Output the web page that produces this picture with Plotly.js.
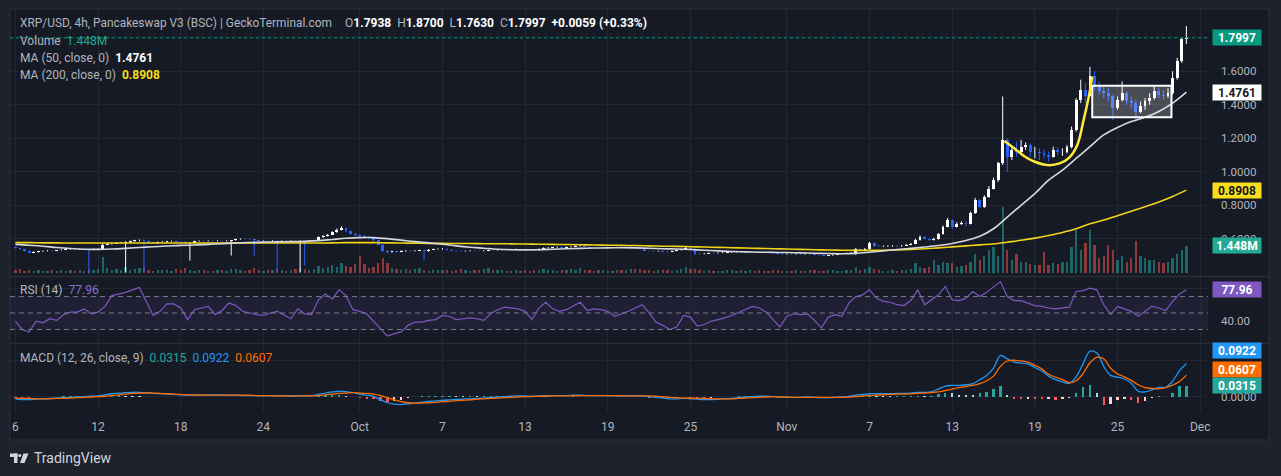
<!DOCTYPE html>
<html><head><meta charset="utf-8">
<script src="https://cdn.plot.ly/plotly-3.0.1.min.js"></script>
<style>html,body{margin:0;padding:0;background:#1e222d;overflow:hidden}</style>
</head><body><div id="chart" style="width:1281px;height:476px;"></div>
<script>
// ---------- DATA ----------
const symbolTitle = 'XRP/USD, 4h, Pancakeswap V3 (BSC) | GeckoTerminal.com';
const ohlcLast = {O:'1.7938', H:'1.8700', L:'1.7630', C:'1.7997', chg:'+0.0059 (+0.33%)'};
const firstOpen = 0.549;
// 8-hour candles from 2024-09-06 00:00 to 2024-11-30 00:00
const closeP = [
0.545,0.537,0.528, 0.517,0.522,0.525, 0.527,0.530,0.528, 0.532,0.535,0.538, 0.539,0.537,0.540,
0.538,0.536,0.539, 0.541,0.566,0.570, 0.572,0.575,0.578, 0.582,0.585,0.590, 0.592,0.586,0.580,
0.578,0.581,0.583, 0.585,0.586,0.584, 0.583,0.573,0.578, 0.586,0.588,0.587, 0.588,0.587,0.589,
0.588,0.589,0.590, 0.598,0.601,0.600, 0.596,0.590,0.588, 0.588,0.587,0.589, 0.587,0.588,0.586,
0.587,0.585,0.588, 0.585,0.589,0.590, 0.610,0.618,0.625, 0.640,0.655,0.662, 0.645,0.630,0.622,
0.618,0.612,0.605, 0.590,0.565,0.530, 0.522,0.525,0.524, 0.528,0.530,0.527, 0.530,0.531,0.526,
0.536,0.538,0.540, 0.540,0.535,0.530, 0.528,0.526,0.527, 0.530,0.529,0.528, 0.530,0.532,0.531,
0.535,0.536,0.538, 0.537,0.539,0.536, 0.535,0.533,0.531, 0.540,0.546,0.548, 0.549,0.550,0.547,
0.551,0.553,0.556, 0.560,0.553,0.548, 0.547,0.546,0.548, 0.549,0.548,0.550, 0.549,0.550,0.551,
0.550,0.540,0.530, 0.528,0.526,0.527, 0.524,0.522,0.528, 0.532,0.538,0.545, 0.540,0.512,0.510,
0.512,0.515,0.514, 0.516,0.518,0.519, 0.520,0.521,0.519, 0.522,0.524,0.523, 0.522,0.521,0.520,
0.515,0.512,0.510, 0.511,0.509,0.510, 0.508,0.509,0.507, 0.504,0.502,0.500, 0.502,0.505,0.510,
0.512,0.514,0.516, 0.540,0.533,0.538, 0.575,0.558,0.555, 0.556,0.557,0.558, 0.556,0.560,0.566,
0.570,0.595,0.612, 0.600,0.593,0.598, 0.628,0.672,0.712, 0.672,0.690,0.695, 0.690,0.754,0.832,
0.790,0.850,0.900, 0.950,1.050,1.190, 1.090,1.130,1.120, 1.150,1.160,1.120, 1.120,1.110,1.100,
1.090,1.130,1.120, 1.120,1.150,1.250, 1.430,1.490,1.450, 1.570,1.520,1.480, 1.470,1.450,1.380,
1.430,1.470,1.420, 1.410,1.360,1.390, 1.420,1.440,1.480, 1.460,1.450,1.470, 1.560,1.660,1.7938,
1.7997];
const highP = [
0.552,0.547,0.540, 0.530,0.525,0.528, 0.530,0.533,0.532, 0.534,0.538,0.541, 0.542,0.541,0.543,
0.542,0.540,0.542, 0.544,0.570,0.574, 0.576,0.579,0.582, 0.586,0.589,0.594, 0.596,0.595,0.590,
0.582,0.584,0.586, 0.588,0.589,0.589, 0.587,0.585,0.581, 0.589,0.591,0.590, 0.591,0.590,0.592,
0.592,0.592,0.593, 0.601,0.604,0.604, 0.602,0.598,0.592, 0.591,0.590,0.592, 0.591,0.591,0.590,
0.590,0.589,0.591, 0.590,0.592,0.593, 0.614,0.622,0.629, 0.645,0.662,0.675, 0.665,0.650,0.636,
0.627,0.622,0.616, 0.608,0.594,0.568, 0.533,0.529,0.528, 0.531,0.533,0.532, 0.533,0.534,0.532,
0.539,0.541,0.543, 0.545,0.543,0.537, 0.532,0.530,0.530, 0.533,0.532,0.531, 0.533,0.535,0.534,
0.538,0.539,0.541, 0.541,0.542,0.541, 0.539,0.537,0.535, 0.543,0.549,0.551, 0.552,0.554,0.553,
0.554,0.556,0.560, 0.566,0.562,0.555, 0.551,0.550,0.551, 0.552,0.551,0.553, 0.553,0.553,0.554,
0.554,0.552,0.542, 0.532,0.530,0.530, 0.529,0.527,0.531, 0.535,0.541,0.552, 0.548,0.542,0.516,
0.516,0.518,0.518, 0.519,0.521,0.522, 0.523,0.524,0.523, 0.525,0.527,0.527, 0.526,0.525,0.524,
0.522,0.518,0.515, 0.514,0.513,0.513, 0.512,0.512,0.511, 0.509,0.506,0.504, 0.505,0.508,0.513,
0.515,0.517,0.520, 0.545,0.542,0.545, 0.582,0.578,0.562, 0.560,0.561,0.562, 0.562,0.564,0.570,
0.575,0.600,0.620, 0.615,0.604,0.606, 0.634,0.680,0.725, 0.718,0.700,0.705, 0.705,0.762,0.845,
0.838,0.860,0.915, 0.965,1.060,1.450, 1.200,1.150,1.180, 1.190,1.175,1.170, 1.150,1.140,1.130,
1.120,1.150,1.145, 1.140,1.160,1.270, 1.440,1.550,1.530, 1.627,1.600,1.540, 1.510,1.500,1.460,
1.450,1.540,1.480, 1.450,1.430,1.420, 1.440,1.470,1.510, 1.500,1.490,1.500, 1.600,1.680,1.800,
1.870];
const lowP = [
0.541,0.533,0.524, 0.514,0.515,0.519, 0.522,0.525,0.525, 0.526,0.530,0.533, 0.535,0.534,0.535,
0.534,0.392,0.534, 0.535,0.538,0.562, 0.566,0.569,0.571, 0.400,0.579,0.582, 0.585,0.400,0.577,
0.574,0.575,0.578, 0.580,0.582,0.581, 0.580,0.570,0.470, 0.577,0.583,0.583, 0.584,0.584,0.585,
0.585,0.585,0.500, 0.589,0.595,0.596, 0.593,0.500,0.585, 0.585,0.584,0.585, 0.400,0.584,0.583,
0.583,0.582,0.400, 0.440,0.583,0.586, 0.588,0.606,0.614, 0.622,0.636,0.650, 0.640,0.626,0.617,
0.612,0.607,0.598, 0.585,0.560,0.522, 0.512,0.518,0.518, 0.520,0.524,0.523, 0.524,0.527,0.470,
0.524,0.533,0.535, 0.536,0.531,0.527, 0.524,0.522,0.523, 0.525,0.526,0.525, 0.525,0.527,0.528,
0.529,0.532,0.533, 0.534,0.535,0.533, 0.532,0.530,0.527, 0.529,0.537,0.543, 0.545,0.546,0.544,
0.545,0.548,0.550, 0.554,0.550,0.545, 0.544,0.543,0.544, 0.545,0.545,0.546, 0.546,0.546,0.547,
0.547,0.537,0.527, 0.525,0.523,0.523, 0.520,0.519,0.520, 0.526,0.530,0.534, 0.536,0.505,0.506,
0.507,0.510,0.510, 0.511,0.514,0.515, 0.516,0.517,0.515, 0.517,0.519,0.520, 0.519,0.518,0.517,
0.512,0.509,0.506, 0.507,0.505,0.506, 0.505,0.505,0.504, 0.501,0.498,0.496, 0.497,0.499,0.503,
0.507,0.509,0.511, 0.505,0.528,0.530, 0.536,0.554,0.551, 0.551,0.552,0.553, 0.552,0.553,0.558,
0.562,0.568,0.590, 0.596,0.588,0.590, 0.595,0.625,0.668, 0.660,0.668,0.682, 0.676,0.686,0.748,
0.782,0.785,0.845, 0.895,0.940,1.040, 1.000,1.070,1.090, 1.110,1.130,1.090, 1.080,1.070,1.080,
1.060,1.085,1.100, 1.095,1.110,1.140, 1.240,1.410,1.410, 1.450,1.490,1.460, 1.440,1.420,1.310,
1.370,1.420,1.400, 1.380,1.300,1.350, 1.370,1.400,1.430, 1.440,1.430,1.440, 1.460,1.550,1.650,
1.763];
// volume in millions, same 8h candles
const volumeM = [
0.12,0.18,0.10, 0.15,0.10,0.12, 0.08,0.11,0.14, 0.10,0.16,0.09, 0.12,0.08,0.15,
0.10,0.22,0.12, 0.18,0.85,0.25, 0.15,0.20,0.12, 0.30,0.14,0.22, 0.25,0.30,0.12,
0.10,0.15,0.12, 0.14,0.10,0.18, 0.12,0.25,0.15, 0.10,0.12,0.16, 0.08,0.11,0.14,
0.12,0.10,0.20, 0.18,0.12,0.10, 0.14,0.25,0.12, 0.10,0.12,0.15, 0.22,0.12,0.10,
0.14,0.20,0.25, 0.22,0.12,0.18, 0.35,0.25,0.30, 0.40,0.30,0.50, 0.35,0.30,0.45,
0.90,0.45,0.25, 0.30,0.50,0.80, 0.50,0.25,0.20, 0.15,0.22,0.12, 0.18,0.25,0.15,
0.10,0.12,0.14, 0.15,0.12,0.10, 0.14,0.18,0.12, 0.10,0.15,0.12, 0.22,0.25,0.14,
0.12,0.15,0.10, 0.08,0.12,0.10, 0.12,0.10,0.14, 0.16,0.20,0.14, 0.12,0.10,0.15,
0.14,0.18,0.12, 0.25,0.16,0.12, 0.10,0.14,0.12, 0.10,0.08,0.12, 0.12,0.14,0.20,
0.18,0.22,0.16, 0.12,0.10,0.14, 0.12,0.15,0.10, 0.14,0.18,0.30, 0.22,0.20,0.12,
0.10,0.12,0.08, 0.10,0.08,0.12, 0.12,0.10,0.14, 0.10,0.12,0.08, 0.12,0.10,0.10,
0.14,0.12,0.10, 0.10,0.08,0.12, 0.08,0.10,0.12, 0.12,0.10,0.10, 0.12,0.14,0.10,
0.10,0.12,0.14, 0.30,0.15,0.20, 0.30,0.18,0.12, 0.10,0.08,0.12, 0.10,0.12,0.15,
0.20,0.50,0.30, 0.25,0.30,0.70, 0.40,0.60,0.50, 0.50,0.30,0.35, 0.40,0.60,1.00,
0.70,0.90,1.20, 1.40,0.90,3.50, 1.20,0.70,1.00, 0.60,0.55,0.45, 0.40,0.40,1.10,
0.40,0.50,0.45, 0.60,0.60,1.40, 2.30,1.20,1.60, 2.30,1.50,0.80, 0.90,1.50,1.20,
0.70,0.90,0.60, 0.80,1.70,0.90, 0.80,0.70,0.70, 0.60,0.50,0.60, 0.80,1.00,1.20,
1.448];
// daily moving averages (Sep 6 .. Nov 30)
const ma50 = [
0.567,0.562,0.556,0.548,0.542,0.538,0.537,0.539,0.543,0.548,
0.553,0.557,0.561,0.563,0.567,0.571,0.575,0.578,0.580,0.582,
0.583,0.585,0.589,0.596,0.603,0.607,0.607,0.601,0.592,0.583,
0.576,0.568,0.558,0.550,0.544,0.538,0.535,0.534,0.535,0.538,
0.541,0.543,0.545,0.546,0.547,0.546,0.544,0.541,0.539,0.536,
0.532,0.528,0.524,0.522,0.520,0.519,0.518,0.516,0.514,0.512,
0.511,0.513,0.520,0.528,0.536,0.543,0.551,0.560,0.572,0.590,
0.615,0.660,0.730,0.800,0.870,0.950,1.010,1.080,1.150,1.220,
1.265,1.300,1.325,1.360,1.410,1.4761];
const ma200 = [
0.577,0.577,0.576,0.576,0.575,0.575,0.575,0.575,0.575,0.575,
0.575,0.575,0.575,0.575,0.575,0.575,0.575,0.575,0.575,0.575,
0.575,0.575,0.575,0.576,0.577,0.577,0.577,0.576,0.575,0.574,
0.573,0.573,0.572,0.572,0.571,0.571,0.570,0.569,0.568,0.567,
0.566,0.565,0.563,0.562,0.561,0.560,0.558,0.556,0.555,0.553,
0.551,0.549,0.547,0.545,0.543,0.541,0.539,0.537,0.535,0.533,
0.532,0.531,0.531,0.532,0.534,0.537,0.541,0.546,0.552,0.558,
0.564,0.569,0.580,0.591,0.604,0.620,0.638,0.660,0.690,0.712,
0.738,0.765,0.792,0.820,0.853,0.8908];
// 12h indicator samples (Sep 6 .. Nov 30)
const rsi14 = [
40,30,27,40,38,43,41,48,51,51, 55,49,51,58,71,73,75,78,81,64,
47,52,61,61,56,42,54,56,58,48, 53,62,59,52,50,48,47,50,52,47,
43,55,49,48,66,73,67,78,71,54, 52,49,40,31,22,25,27,35,39,39,
41,42,47,46,42,43,44,43,41,49, 54,57,56,55,52,42,56,63,55,52,
54,58,63,53,55,54,52,46,49,52, 56,60,50,39,35,30,33,47,45,34,
36,40,42,44,47,51,55,58,56,51, 42,33,46,49,48,49,41,32,45,48,
46,62,70,72,78,68,64,63,60,59, 65,78,60,66,72,82,66,65,68,76,
70,75,82,88,70,65,65,62,59,58, 56,55,56,57,76,77,80,78,60,48,
58,55,52,46,52,58,56,53,64,73, 77.96];
const macdLine = [
-0.006,-0.007,-0.007,-0.006,-0.005,-0.004,-0.003,-0.002,-0.001,0.000,
0.001,0.002,0.003,0.006,0.009,0.011,0.012,0.013,0.013,0.012,
0.010,0.009,0.008,0.007,0.006,0.005,0.005,0.005,0.006,0.006,
0.005,0.005,0.005,0.004,0.004,0.004,0.003,0.003,0.003,0.003,
0.002,0.003,0.003,0.003,0.007,0.011,0.014,0.016,0.015,0.012,
0.008,0.005,0.002,-0.008,-0.016,-0.020,-0.021,-0.019,-0.017,-0.014,
-0.012,-0.011,-0.009,-0.008,-0.007,-0.006,-0.005,-0.004,-0.003,-0.001,
0.000,0.001,0.002,0.003,0.003,0.002,0.003,0.004,0.004,0.004,
0.004,0.005,0.005,0.004,0.004,0.004,0.004,0.003,0.003,0.003,
0.003,0.003,0.001,-0.001,-0.003,-0.005,-0.005,-0.004,-0.005,-0.006,
-0.007,-0.007,-0.006,-0.005,-0.004,-0.002,0.000,0.001,0.002,0.002,
0.001,-0.001,-0.001,-0.001,-0.001,0.000,-0.001,-0.002,-0.002,-0.001,
0.000,0.002,0.005,0.007,0.009,0.009,0.009,0.009,0.010,0.010,
0.011,0.013,0.013,0.015,0.022,0.030,0.032,0.032,0.034,0.037,
0.048,0.060,0.080,0.115,0.106,0.097,0.094,0.092,0.082,0.072,
0.058,0.048,0.042,0.038,0.056,0.092,0.127,0.122,0.085,0.060,
0.055,0.050,0.038,0.016,0.014,0.020,0.027,0.027,0.044,0.073,
0.0922];
const signalLine = [
-0.003,-0.004,-0.004,-0.005,-0.005,-0.005,-0.004,-0.004,-0.003,-0.002,
-0.001,0.000,0.001,0.002,0.004,0.006,0.008,0.010,0.011,0.011,
0.011,0.010,0.009,0.008,0.007,0.006,0.006,0.005,0.005,0.005,
0.005,0.005,0.005,0.005,0.005,0.004,0.004,0.004,0.003,0.003,
0.003,0.003,0.003,0.003,0.004,0.006,0.008,0.010,0.011,0.012,
0.011,0.010,0.008,0.004,-0.002,-0.008,-0.013,-0.016,-0.017,-0.017,
-0.016,-0.015,-0.013,-0.012,-0.010,-0.009,-0.008,-0.006,-0.005,-0.004,
-0.003,-0.002,-0.001,0.000,0.001,0.001,0.002,0.002,0.003,0.003,
0.003,0.003,0.004,0.004,0.004,0.004,0.004,0.004,0.003,0.003,
0.003,0.003,0.003,0.002,0.001,-0.001,-0.002,-0.003,-0.003,-0.004,
-0.004,-0.005,-0.005,-0.005,-0.005,-0.004,-0.003,-0.002,-0.001,0.000,
0.001,0.000,0.000,-0.001,-0.001,-0.001,-0.001,-0.001,-0.001,-0.001,
-0.001,0.000,0.001,0.003,0.004,0.005,0.006,0.007,0.008,0.008,
0.009,0.010,0.011,0.012,0.014,0.018,0.022,0.026,0.029,0.032,
0.037,0.045,0.058,0.085,0.100,0.102,0.100,0.097,0.088,0.078,
0.063,0.055,0.048,0.040,0.045,0.065,0.095,0.110,0.106,0.080,
0.064,0.056,0.046,0.034,0.026,0.024,0.023,0.026,0.033,0.043,
0.0607];
// drawing: cup curve and consolidation box
const cupTimes = ['2024-11-16 19:00','2024-11-17 12:00','2024-11-18 07:00','2024-11-19 00:00','2024-11-19 22:00','2024-11-20 19:00','2024-11-21 12:00','2024-11-22 02:00','2024-11-22 13:00','2024-11-22 22:00','2024-11-23 04:00'];
const cupPrices = [1.184,1.140,1.090,1.060,1.040,1.050,1.085,1.160,1.310,1.450,1.570];
const boxTimes = ['2024-11-23 04:00','2024-11-28 22:00'];
const boxPrices = [1.325,1.514];
const tickDates = ['2024-09-06','2024-09-12','2024-09-18','2024-09-24','2024-10-01','2024-10-07','2024-10-13','2024-10-19','2024-10-25','2024-11-01','2024-11-07','2024-11-13','2024-11-19','2024-11-25','2024-12-01'];
const tickLabels = ['6','12','18','24','Oct','7','13','19','25','Nov','7','13','19','25','Dec'];
const priceTicks = [0.6,0.8,1.0,1.2,1.4,1.6,1.8];
const priceTickLabels = ['0.6000','0.8000','1.0000','1.2000','1.4000','1.6000',''];

// ---------- BUILD ----------
const HOUR = 3600e3, T0 = Date.UTC(2024,8,6,0,0);
const pad = n => String(n).padStart(2,'0');
const ts = ms => { const d = new Date(ms); return d.getUTCFullYear()+'-'+pad(d.getUTCMonth()+1)+'-'+pad(d.getUTCDate())+' '+pad(d.getUTCHours())+':'+pad(d.getUTCMinutes()); };
const tC = closeP.map((_,i)=>ts(T0+i*8*HOUR));
const tD = ma50.map((_,i)=>ts(T0+i*24*HOUR));
const tH = rsi14.map((_,i)=>ts(T0+i*12*HOUR));
const openP = closeP.map((c,i)=> i===0 ? firstOpen : closeP[i-1]);
const isUp = closeP.map((c,i)=> c >= openP[i]);
const UP = '#ffffff', DN = '#2962ff';

function wick(up){
  const x=[], y=[];
  closeP.forEach((c,i)=>{ if(isUp[i]===up){ x.push(tC[i],tC[i],null); y.push(lowP[i],highP[i],null);} });
  return {type:'scatter',mode:'lines',x,y,yaxis:'y2',line:{color:up?UP:DN,width:1},hoverinfo:'skip'};
}
function body(up){
  const idx = closeP.map((c,i)=>i).filter(i=>isUp[i]===up);
  return {type:'bar', x:idx.map(i=>tC[i]), base:idx.map(i=>Math.min(openP[i],closeP[i])),
    y:idx.map(i=>Math.abs(closeP[i]-openP[i])), width:5*HOUR, yaxis:'y2',
    marker:{color:up?UP:DN,line:{width:0}}, hoverinfo:'skip'};
}
const hist = macdLine.map((m,i)=>m-signalLine[i]);
const histColors = hist.map((h,i)=>{ const p = i>0?hist[i-1]:0;
  if(h>=0) return h>=p ? '#26a69a' : '#b2dfdb'; return h<=p ? '#ff5252' : '#ffcdd2'; });

const traces = [
  {type:'bar', x:tC, y:volumeM, yaxis:'y', width:4*HOUR,
   marker:{color:isUp.map(u=>u?'rgba(38,166,154,0.55)':'rgba(239,83,80,0.55)'),line:{width:0}}, hoverinfo:'skip'},
  wick(true), wick(false), body(true), body(false),
  {type:'scatter',mode:'lines',x:tD,y:ma200,yaxis:'y2',line:{color:'#f2d518',width:1.6,shape:'spline'},hoverinfo:'skip'},
  {type:'scatter',mode:'lines',x:tD,y:ma50,yaxis:'y2',line:{color:'#d6d8de',width:1.6,shape:'spline'},hoverinfo:'skip'},
  {type:'scatter',mode:'lines',x:cupTimes,y:cupPrices,yaxis:'y2',line:{color:'#ffeb3b',width:2.5,shape:'spline'},hoverinfo:'skip'},
  {type:'scatter',mode:'lines',x:tH,y:rsi14,yaxis:'y3',line:{color:'#7e57c2',width:1.2},hoverinfo:'skip'},
  {type:'bar',x:tH,y:hist,yaxis:'y4',width:4*HOUR,marker:{color:histColors,line:{width:0}},hoverinfo:'skip'},
  {type:'scatter',mode:'lines',x:tH,y:macdLine,yaxis:'y4',line:{color:'#2196f3',width:1.3,shape:'spline'},hoverinfo:'skip'},
  {type:'scatter',mode:'lines',x:tH,y:signalLine,yaxis:'y4',line:{color:'#ff6d00',width:1.3,shape:'spline'},hoverinfo:'skip'}
];

// pixel helpers for paper coords
const PL=10, PR=1208, PT=10, PB=412, PW=PR-PL, PH=PB-PT;
const fx = p => (p-PL)/PW, fy = p => (PB-p)/PH;
const GRID = '#232733', TXT = '#b2b5be', FONT = 'Roboto, "Open Sans", sans-serif';
const tickFont = {family:FONT,size:11.5,color:TXT};

const shapes = [
  {type:'rect',xref:'paper',yref:'paper',x0:fx(10),x1:fx(1269),y0:fy(440),y1:fy(9),fillcolor:'#161a25',line:{color:'#2a2e39',width:1},layer:'below'},
  {type:'rect',xref:'paper',yref:'y3',x0:0,x1:1,y0:30,y1:70,fillcolor:'rgba(126,87,194,0.10)',line:{width:0},layer:'below'},
  ...[70,50,30].map(v=>({type:'line',xref:'paper',yref:'y3',x0:0,x1:1,y0:v,y1:v,line:{color:'#787b86',width:1,dash:'5px,4px'}})),
  {type:'line',xref:'paper',yref:'paper',x0:fx(10),x1:fx(1269),y0:fy(276.5),y1:fy(276.5),line:{color:'#2a2e39',width:1.5}},
  {type:'line',xref:'paper',yref:'paper',x0:fx(10),x1:fx(1269),y0:fy(343.5),y1:fy(343.5),line:{color:'#2a2e39',width:1.5}},
  {type:'line',xref:'paper',yref:'y2',x0:0,x1:1,y0:closeP[closeP.length-1],y1:closeP[closeP.length-1],line:{color:'#089981',width:1,dash:'dot'}},
  {type:'rect',xref:'x',yref:'y2',x0:boxTimes[0],x1:boxTimes[1],y0:boxPrices[0],y1:boxPrices[1],fillcolor:'rgba(255,255,255,0.22)',line:{color:'#ffffff',width:2},layer:'above'},
  // TradingView logo
  {type:'rect',xref:'paper',yref:'paper',x0:fx(10),x1:fx(17.5),y0:fy(457),y1:fy(453.5),fillcolor:'#d1d4dc',line:{width:0}},
  {type:'rect',xref:'paper',yref:'paper',x0:fx(14),x1:fx(17.5),y0:fy(463),y1:fy(453.5),fillcolor:'#d1d4dc',line:{width:0}},
  {type:'circle',xref:'paper',yref:'paper',x0:fx(18.3),x1:fx(21.3),y0:fy(457),y1:fy(454),fillcolor:'#d1d4dc',line:{width:0}},
  {type:'path',xref:'paper',yref:'paper',path:`M ${fx(23.5)} ${fy(453.5)} L ${fx(28.5)} ${fy(453.5)} L ${fx(24.5)} ${fy(463)} L ${fx(20)} ${fy(463)} Z`,fillcolor:'#d1d4dc',line:{width:0}}
];

const W = '#ffffff', NB = '\u00a0';
const legendFont = {family:FONT,size:12,color:TXT};
function leftNote(px,py,text,size){ return {xref:'paper',yref:'paper',x:fx(px),y:fy(py),xanchor:'left',yanchor:'middle',text,showarrow:false,
  font:Object.assign({},legendFont,size?{size}:{}),align:'left'}; }
function valBox(yref,y,text,bg,fg,yshift){ return {xref:'paper',yref,x:1,y,xanchor:'left',yanchor:'middle',xshift:4,yshift:yshift||0,
  text:'<b>'+text+'</b>',bgcolor:bg,showarrow:false,width:46,height:13,borderpad:1,font:{family:FONT,size:12,color:fg}}; }
const col = (c,t,b) => `<span style="color:${c}">${b?'<b>'+t+'</b>':t}</span>`;

const lastVol = volumeM[volumeM.length-1], lastMa50 = ma50[ma50.length-1], lastMa200 = ma200[ma200.length-1];
const lastRsi = rsi14[rsi14.length-1], lastMacd = macdLine[macdLine.length-1], lastSig = signalLine[signalLine.length-1];
const lastHist = lastMacd - lastSig;

const annotations = [
  leftNote(18,23,symbolTitle,11.9),
  leftNote(343,23,`O${col(W,ohlcLast.O,1)}${NB}${NB}H${col(W,ohlcLast.H,1)}${NB}${NB}L${col(W,ohlcLast.L,1)}${NB}${NB}C${col(W,ohlcLast.C,1)}${NB}${NB}${col(W,ohlcLast.chg,1)}`),
  leftNote(18,41,`Volume${NB}${NB}${col('#22ab94',lastVol.toFixed(3)+'M')}`),
  leftNote(18,58,`MA (50, close, 0)${NB}${NB}${col(W,lastMa50.toFixed(4),1)}`),
  leftNote(18,75,`MA (200, close, 0)${NB}${NB}${col('#f7de1c',lastMa200.toFixed(4),1)}`),
  leftNote(18,290,`RSI (14)${NB}${NB}${col('#8e6bd8',lastRsi.toFixed(2))}`),
  leftNote(18,358,`MACD (12, 26, close, 9)${NB}${NB}${col('#26a69a',lastHist.toFixed(4))}${NB}${NB}${col('#2196f3',lastMacd.toFixed(4))}${NB}${NB}${col('#ff6d00',lastSig.toFixed(4))}`),
  valBox('y2',closeP[closeP.length-1],closeP[closeP.length-1].toFixed(4),'#089981','#ffffff'),
  valBox('y2',lastMa50,lastMa50.toFixed(4),'#ffffff','#131722'),
  valBox('y2',lastMa200,lastMa200.toFixed(4),'#f7de1c','#131722'),
  valBox('y',lastVol,lastVol.toFixed(3)+'M','#22ab94','#ffffff'),
  valBox('y3',lastRsi,lastRsi.toFixed(2),'#7e57c2','#ffffff'),
  valBox('y4',lastMacd,lastMacd.toFixed(4),'#2196f3','#ffffff',13),
  valBox('y4',lastSig,lastSig.toFixed(4),'#ff6d00','#ffffff',6),
  valBox('y4',lastHist,lastHist.toFixed(4),'#26a69a','#ffffff'),
  {xref:'paper',yref:'paper',x:fx(32),y:fy(458),xanchor:'left',yanchor:'middle',text:'TradingView',showarrow:false,font:{family:FONT,size:14,color:'#d1d4dc'}}
];

const layout = {
  width:1281, height:476, margin:{l:PL,r:1281-PR,t:PT,b:476-PB,pad:0},
  paper_bgcolor:'#1e222d', plot_bgcolor:'rgba(0,0,0,0)', showlegend:false,
  barmode:'overlay', bargap:0, font:{family:FONT,color:TXT,size:12},
  xaxis:{type:'date', range:['2024-09-05 14:36','2024-12-01 13:40'], anchor:'y4',
    tickvals:tickDates, ticktext:tickLabels, showgrid:true, gridcolor:GRID, gridwidth:1,
    zeroline:false, showline:false, ticks:'', tickfont:{family:FONT,size:12,color:TXT}, ticklabelstandoff:6, fixedrange:true},
  yaxis:{domain:[fy(275),1], range:[-0.123,14.086], visible:false, showgrid:false, fixedrange:true},
  yaxis2:{overlaying:'y', anchor:'x', side:'right', range:[0.384,1.966], tickvals:priceTicks,
    ticktext:priceTickLabels, showgrid:true, gridcolor:GRID, zeroline:false, ticks:'',
    tickfont:tickFont, ticklabelstandoff:12, fixedrange:true},
  yaxis3:{domain:[fy(343),fy(277)], anchor:'x', side:'right', range:[13.6,93.6], tickvals:[40,80],
    ticktext:['40.00',''], showgrid:true, gridcolor:GRID, zeroline:false, ticks:'', tickfont:tickFont, ticklabelstandoff:12, fixedrange:true},
  yaxis4:{domain:[0,fy(345)], anchor:'x', side:'right', range:[-0.0417,0.1444], tickvals:[0,0.1],
    ticktext:['0.0000',''], showgrid:true, gridcolor:GRID, zeroline:false, ticks:'', tickfont:tickFont, ticklabelstandoff:12, fixedrange:true},
  shapes, annotations
};
Plotly.newPlot('chart', traces, layout, {staticPlot:true, displayModeBar:false});
</script></body></html>
